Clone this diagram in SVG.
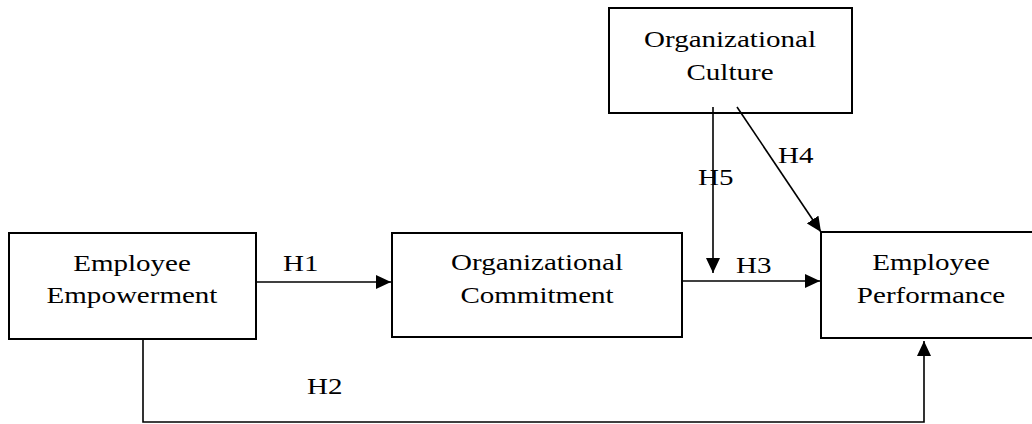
<svg xmlns="http://www.w3.org/2000/svg" width="1032" height="424" viewBox="0 0 1032 424">
<style>
.box{fill:#fff;stroke:#000;stroke-width:2}
.c{fill:none;stroke:#000;stroke-width:1.6}
</style>
<defs>
<marker id="ah" markerWidth="15" markerHeight="14" viewBox="0 0 15 14" refX="15" refY="7" orient="auto" markerUnits="userSpaceOnUse">
<path d="M0,0 L15,7 L0,14 Z" fill="#000"/>
</marker>
</defs>
<g font-family="Liberation Serif, Times New Roman, serif" font-size="24" fill="#000">
<g id="culture" text-anchor="middle"><rect class="box" x="609" y="8" width="243" height="105"/>
<text transform="translate(730 47) scale(1.21 1)">Organizational</text><text transform="translate(730 80) scale(1.21 1)">Culture</text></g>
<g id="empowerment" text-anchor="middle"><rect class="box" x="9" y="233" width="247" height="106"/>
<text transform="translate(132 271) scale(1.21 1)">Employee</text><text transform="translate(132 303) scale(1.21 1)">Empowerment</text></g>
<g id="commitment" text-anchor="middle"><rect class="box" x="392" y="233" width="290" height="104"/>
<text transform="translate(537 270) scale(1.21 1)">Organizational</text><text transform="translate(537 303) scale(1.21 1)">Commitment</text></g>
<g id="performance" text-anchor="middle"><rect class="box" x="821" y="232" width="220" height="106"/>
<text transform="translate(931 270) scale(1.21 1)">Employee</text><text transform="translate(931 303) scale(1.21 1)">Performance</text></g>
<g id="connectors">
<line class="c" x1="256" y1="282" x2="391" y2="282" marker-end="url(#ah)"/>
<line class="c" x1="682" y1="281" x2="820" y2="281" marker-end="url(#ah)"/>
<line class="c" x1="713" y1="107" x2="713" y2="273" marker-end="url(#ah)"/>
<line class="c" x1="737" y1="107" x2="821" y2="232" marker-end="url(#ah)"/>
<polyline class="c" points="143,339 143,422 924,422 924,341" marker-end="url(#ah)" stroke-width="1.2"/>
<text transform="translate(283 271) scale(1.21 1)">H1</text>
<text transform="translate(307 394) scale(1.21 1)">H2</text>
<text transform="translate(736 273) scale(1.21 1)">H3</text>
<text transform="translate(778 163) scale(1.21 1)">H4</text>
<text transform="translate(698 185) scale(1.21 1)">H5</text>
</g>
</g>
</svg>
